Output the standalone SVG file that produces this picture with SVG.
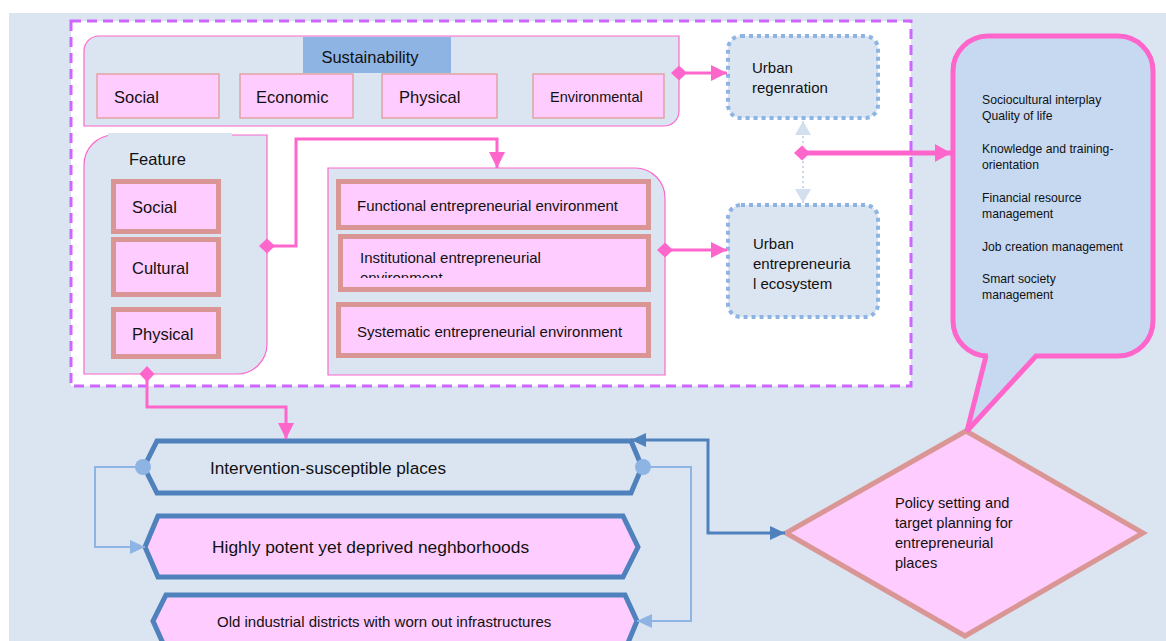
<svg xmlns="http://www.w3.org/2000/svg" width="1166" height="641" viewBox="0 0 1166 641">
<style>
text{font-family:"Liberation Sans",Arial,sans-serif;fill:#111;}
.cont{fill:#dbe5f1;stroke:#ff66cc;stroke-width:1.2;}
.sbox{fill:#ffccff;stroke:#e2a3a3;stroke-width:1.5;}
.tbox{fill:#ffccff;stroke:#d99694;stroke-width:5;}
.dot{fill:#dbe5f1;stroke:#8eb4e3;stroke-width:4;stroke-dasharray:4 4;}
.hex{stroke:#4f81bd;stroke-width:5;stroke-linejoin:miter;}
.pk{fill:none;stroke:#ff66cc;stroke-width:3;}
.lb{fill:none;stroke:#8eb4e3;stroke-width:2;}
.db{fill:none;stroke:#4f81bd;stroke-width:3;}
.co{font-size:12.2px;}
.ee{font-size:15px;}
.pt{font-size:14.6px;}
</style>
<defs>
<marker id="pa" markerUnits="userSpaceOnUse" markerWidth="16" markerHeight="16" refX="16" refY="8" orient="auto"><path d="M0,0 L16,8 L0,16 z" fill="#ff66cc"/></marker>
<marker id="pa2" markerUnits="userSpaceOnUse" markerWidth="16" markerHeight="18" refX="16" refY="9" orient="auto"><path d="M0,0 L16,9 L0,18 z" fill="#ff66cc"/></marker>
<marker id="pd" markerUnits="userSpaceOnUse" markerWidth="16" markerHeight="16" refX="8" refY="8" orient="auto"><path d="M0,8 L8,0.5 L16,8 L8,15.5 z" fill="#ff66cc"/></marker>
<marker id="la" markerUnits="userSpaceOnUse" markerWidth="15" markerHeight="14" refX="15" refY="7" orient="auto"><path d="M0,0 L15,7 L0,14 z" fill="#8eb4e3"/></marker>
<marker id="da" markerUnits="userSpaceOnUse" markerWidth="15" markerHeight="14" refX="15" refY="7" orient="auto-start-reverse"><path d="M0,0 L15,7 L0,14 z" fill="#4f81bd"/></marker>
<marker id="va" markerUnits="userSpaceOnUse" markerWidth="14" markerHeight="16" refX="14" refY="8" orient="auto-start-reverse"><path d="M0,0 L14,8 L0,16 z" fill="#d3dfee"/></marker>
<clipPath id="instClip"><rect x="340" y="237" width="309" height="41"/></clipPath>
</defs>

<rect x="0" y="0" width="1166" height="641" fill="#ffffff"/>
<rect x="9" y="13" width="1157" height="628" fill="#dbe5f1"/>
<rect x="71" y="21" width="840" height="365" fill="#ffffff" stroke="#cc66ff" stroke-width="3" stroke-dasharray="10 6"/>

<g id="sustainability">
<path class="cont" d="M84,126 L84,51 A15,15 0 0 1 99,36 L679,36 L679,111 A15,15 0 0 1 664,126 Z"/>
<rect x="303" y="37" width="148" height="36" fill="#8eb4e3"/>
<text x="370" y="62.5" font-size="16.5" text-anchor="middle">Sustainability</text>
</g>
<g id="s-social"><rect class="sbox" x="97" y="74" width="122" height="44"/><text x="114" y="103" font-size="16.5">Social</text></g>
<g id="s-economic"><rect class="sbox" x="240" y="74" width="113" height="44"/><text x="256" y="103" font-size="16.5">Economic</text></g>
<g id="s-physical"><rect class="sbox" x="382" y="74" width="115" height="44"/><text x="399" y="103" font-size="16.5">Physical</text></g>
<g id="s-environmental"><rect class="sbox" x="533" y="74" width="131" height="44"/><text x="550" y="102" font-size="14.5">Environmental</text></g>

<g id="urban-regeneration">
<rect class="dot" x="728" y="36" width="150" height="82" rx="13"/>
<text class="ee" x="752" y="73">Urban</text>
<text class="ee" x="752" y="93">regenration</text>
</g>

<g id="feature">
<path class="cont" d="M84,374 L84,165 A30,30 0 0 1 114,135 L267,135 L267,344 A30,30 0 0 1 237,374 Z"/>
<rect x="108" y="133" width="124" height="16" fill="#dbe5f1"/>
<text x="129" y="164.5" font-size="16.5">Feature</text>
</g>
<g id="f-social"><rect class="tbox" x="113.5" y="181.5" width="105" height="50"/><text x="132" y="213" font-size="16.5">Social</text></g>
<g id="f-cultural"><rect class="tbox" x="113.5" y="239.5" width="105" height="55"/><text x="132" y="274" font-size="16.5">Cultural</text></g>
<g id="f-physical"><rect class="tbox" x="113.5" y="309.5" width="105" height="47"/><text x="132" y="340" font-size="16.5">Physical</text></g>

<g id="entrepreneurial-environment">
<path class="cont" d="M328,375 L328,168 L635,168 A30,30 0 0 1 665,198 L665,375 Z"/>
</g>
<g id="e-functional"><rect class="tbox" x="338.5" y="181.5" width="310" height="46"/><text class="ee" x="357" y="210.5">Functional entrepreneurial environment</text></g>
<g id="e-institutional"><rect class="tbox" x="340.5" y="236.5" width="308" height="53"/>
<g clip-path="url(#instClip)"><text class="ee" x="360" y="262.5">Institutional entrepreneurial</text><text class="ee" x="360" y="283">environment</text></g></g>
<g id="e-systematic"><rect class="tbox" x="338.5" y="304.5" width="310" height="51"/><text class="ee" x="357" y="336.5">Systematic entrepreneurial environment</text></g>

<g id="urban-ecosystem">
<rect class="dot" x="728" y="205" width="150" height="112" rx="13"/>
<text class="ee" x="753" y="249">Urban</text>
<text class="ee" x="753" y="269">entrepreneuria</text>
<text class="ee" x="753" y="289">l ecosystem</text>
</g>

<g id="hex-intervention">
<polygon class="hex" fill="none" points="157,441 631,441 642,467 631,493 157,493 144,467"/>
<text x="210" y="474" font-size="17.2">Intervention-susceptible places</text>
</g>
<g id="hex-highly">
<polygon class="hex" fill="#ffccff" points="158,516 623,516 638,547 623,577 158,577 145,547"/>
<text x="212" y="553" font-size="17.4">Highly potent yet deprived neghborhoods</text>
</g>
<g id="hex-old">
<polygon class="hex" fill="#ffccff" points="166,595 625,595 637,621 625,650 166,650 153,621"/>
<text x="217" y="627" font-size="15">Old industrial districts with worn out infrastructures</text>
</g>

<g id="policy">
<polygon fill="#ffccff" stroke="#d99694" stroke-width="5" stroke-linejoin="miter" points="966,431 1143,533 965,636 786,533"/>
<text class="pt" x="895" y="508">Policy setting and</text>
<text class="pt" x="895" y="528">target planning for</text>
<text class="pt" x="895" y="547.5">entrepreneurial</text>
<text class="pt" x="895" y="567.5">places</text>
</g>

<g id="callout">
<path d="M988,36 L1118,36 A35,35 0 0 1 1153,71 L1153,321 A35,35 0 0 1 1118,356 L1036,356 L967,431 L986,356 L988,356 A35,35 0 0 1 953,321 L953,71 A35,35 0 0 1 988,36 Z" fill="#c6d9f1" stroke="#ff66cc" stroke-width="5" stroke-linejoin="miter"/>
<text class="co" x="982" y="104">Sociocultural interplay</text>
<text class="co" x="982" y="120">Quality of life</text>
<text class="co" x="982" y="153">Knowledge and training-</text>
<text class="co" x="982" y="169">orientation</text>
<text class="co" x="982" y="202">Financial resource</text>
<text class="co" x="982" y="218">management</text>
<text class="co" x="982" y="251">Job creation management</text>
<text class="co" x="982" y="283">Smart society</text>
<text class="co" x="982" y="299">management</text>
</g>

<g id="connectors">
<path class="pk" d="M679,73 L727,73" marker-start="url(#pd)" marker-end="url(#pa)"/>
<path class="pk" d="M267,246 L296,246 L296,139 L497,139 L497,168" marker-start="url(#pd)" marker-end="url(#pa)"/>
<path class="pk" d="M665,250 L727,250" marker-start="url(#pd)" marker-end="url(#pa)"/>
<path class="pk" d="M147,374 L147,407 L286,407 L286,439" marker-start="url(#pd)" marker-end="url(#pa)"/>
<path d="M803,121 L803,203" fill="none" stroke="#c9d8eb" stroke-width="2" stroke-dasharray="2 3" marker-start="url(#va)" marker-end="url(#va)"/>
<path d="M802,153 L951,153" fill="none" stroke="#ff66cc" stroke-width="5" marker-start="url(#pd)" marker-end="url(#pa2)"/>
<path class="lb" d="M143,467 L95,467 L95,547 L145,547" marker-end="url(#la)"/>
<path class="lb" d="M643,467 L691,467 L691,621 L637,621" marker-end="url(#la)"/>
<circle cx="143" cy="467" r="8" fill="#8eb4e3"/>
<circle cx="643" cy="467" r="8" fill="#8eb4e3"/>
<path class="db" d="M631,440 L708,440 L708,533 L785,533" marker-start="url(#da)" marker-end="url(#da)"/>
</g>
</svg>
